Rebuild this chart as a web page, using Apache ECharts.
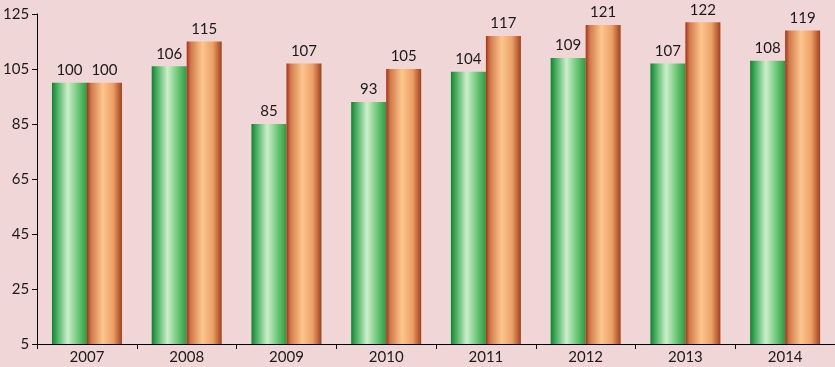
<!DOCTYPE html>
<html><head><meta charset="utf-8">
<script src="https://cdn.jsdelivr.net/npm/echarts@6/dist/echarts.min.js"></script>
<style>html,body{margin:0;padding:0;background:#f0d6d7;}#c{width:835px;height:367px;}</style>
</head><body><div id="c"></div>
<script>
const categories = ['2007','2008','2009','2010','2011','2012','2013','2014'];
const seriesA = [100,106,85,93,104,109,107,108];
const seriesB = [100,115,107,105,117,121,122,119];
const yTicks = {min:5, max:125, interval:20};

const chart = echarts.init(document.getElementById('c'));
const greenGrad = new echarts.graphic.LinearGradient(0,0,1,0,[
  {offset:0,color:'#137f35'},{offset:0.12,color:'#3aa955'},{offset:0.45,color:'#cdeecb'},
  {offset:0.75,color:'#6cc777'},{offset:1,color:'#2c9a42'}]);
const orangeGrad = new echarts.graphic.LinearGradient(0,0,1,0,[
  {offset:0,color:'#a8301b'},{offset:0.12,color:'#d17a4a'},{offset:0.45,color:'#fdc68e'},
  {offset:0.75,color:'#eba066'},{offset:1,color:'#a2401c'}]);
const lbl = {show:true, position:'top', distance:5, color:'#1a1a1a', fontFamily:'Lato', fontSize:15};
chart.setOption({
  backgroundColor:'#f0d6d7',
  animation:false,
  grid:{left:35,right:0,top:14,bottom:23,containLabel:false},
  xAxis:{type:'category',data:categories,
    axisLine:{lineStyle:{color:'#000',width:1}},
    axisTick:{show:true,length:5,lineStyle:{color:'#000'}},
    axisLabel:{color:'#1a1a1a',fontFamily:'Lato',fontSize:15,margin:6}},
  yAxis:{type:'value',min:yTicks.min,max:yTicks.max,interval:yTicks.interval,
    splitLine:{show:false},
    axisLine:{show:true,lineStyle:{color:'#000',width:1}},
    axisTick:{show:true,length:5,lineStyle:{color:'#000'}},
    axisLabel:{color:'#1a1a1a',fontFamily:'Lato',fontSize:15,margin:8}},
  series:[
    {type:'bar',data:seriesA,barWidth:35,barGap:'0%',itemStyle:{color:greenGrad},label:lbl},
    {type:'bar',data:seriesB,barWidth:35,itemStyle:{color:orangeGrad},label:lbl}
  ]
});
</script></body></html>
